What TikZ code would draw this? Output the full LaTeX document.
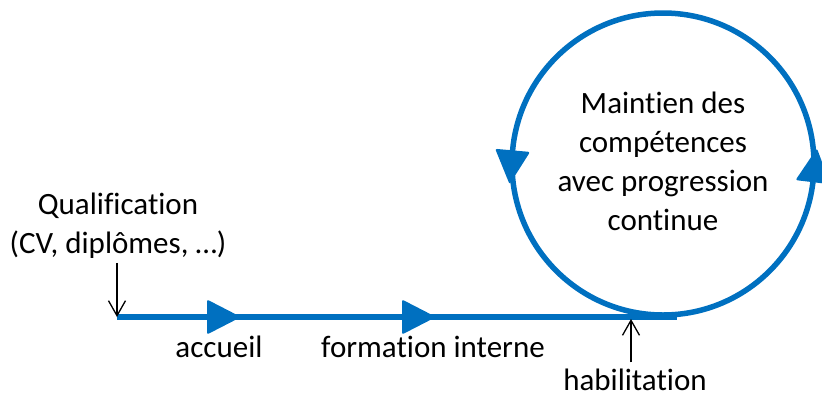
\documentclass[tikz,border=0pt]{standalone}
\usepackage{fontspec}
\setmainfont[Ligatures={NoCommon,NoRare,NoContextual}]{Carlito}
\usetikzlibrary{arrows.meta,decorations.markings}
\definecolor{oblue}{RGB}{0,112,192}
\newcommand\flowtri{\fill[oblue, rounded corners=2pt] (0,-17.5) -- (34,0) -- (0,17.5) -- cycle;}
\begin{document}
\begin{tikzpicture}[x=1pt,y=-1pt,
  flow/.style={draw=oblue, line width=5.5pt},
  txt/.style={font=\fontsize{31}{39}\selectfont, inner sep=0pt, align=center},
  ptr/.style={draw=black, line width=1.3pt, -{Straight Barb[length=15pt,width=17pt]}}]
\useasboundingbox (0,0) rectangle (822,400);
% main line
\coordinate (start) at (117,317);
\coordinate (tangent) at (677,317);
\draw[flow, postaction={decorate}, decoration={markings,
  mark=at position 90pt with {\flowtri},
  mark=at position 285pt with {\flowtri}}] (start) -- (tangent);
% loop
\coordinate (cc) at (663,164);
\node[txt] (loop) at (663,161) {Maintien des\\comp\'etences\\avec progression\\continue};
\draw[flow, postaction={decorate}, decoration={markings,
  mark=at position 219pt with {\flowtri},
  mark=at position 698pt with {\flowtri}}]
  (cc) ++(90:151) arc[start angle=90, end angle=-270, radius=151];
% labels
\node[txt] (qual) at (118,226) {Qualification\\(CV, diplômes, …)};
\draw[ptr, shorten <=4pt] (qual.south -| start) -- (start);
\node[txt, anchor=base] (acc) at (219,357) {accueil};
\node[txt, anchor=base] (form) at (433,357) {formation interne};
\node[txt, anchor=base] (hab) at (635,390) {habilitation};
\coordinate (habpt) at (631,319);
\draw[ptr, shorten <=6pt] (hab.north -| habpt) -- (habpt);
\end{tikzpicture}
\end{document}
